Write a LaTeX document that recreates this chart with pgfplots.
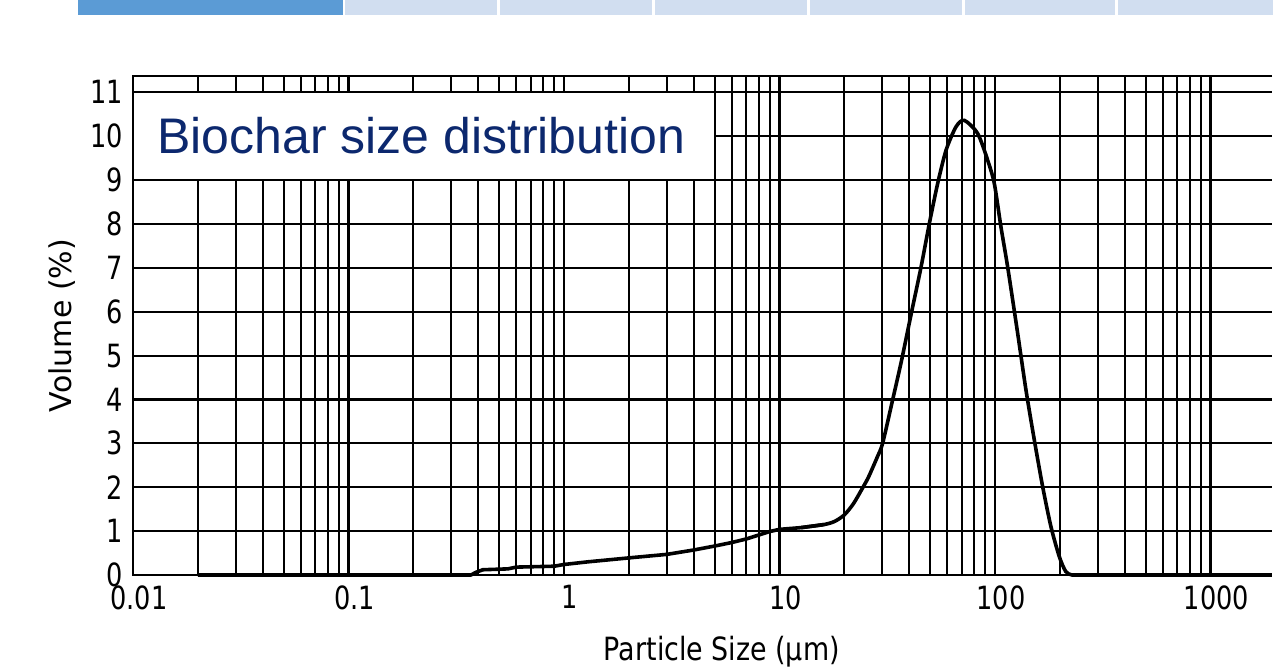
\documentclass[border=0pt]{standalone}
\usepackage{fontspec}
\setmainfont{DejaVu Sans}
\usepackage{pgfplots}
\pgfplotsset{compat=1.18}
\newfontfamily\tickfont[FakeStretch=0.8]{DejaVu Sans}
\newfontfamily\labfont[FakeStretch=0.84]{DejaVu Sans}
\newfontfamily\titlefont{Liberation Sans}
\definecolor{titleblue}{RGB}{12,40,110}
\definecolor{tabblue}{RGB}{91,155,213}
\definecolor{tablight}{RGB}{209,222,240}

\begin{document}
\begin{tikzpicture}
\useasboundingbox (-66.5pt,-45.5pt) rectangle (570pt,287.5pt);
% cropped tab strip at the top of the screenshot
\fill[tabblue] (-27.5pt,280pt) rectangle (105pt,287.5pt);
\foreach \a/\b in {106/182,183.5/259.5,261/337,338.5/414.5,416/491,492.5/570}
  \fill[tablight] (\a pt,280pt) rectangle (\b pt,287.5pt);
\begin{semilogxaxis}[
    scale only axis,
    width=569.5pt, height=249.5pt,
    xmin=0.01, xmax=1930,
    ymin=0, ymax=11.37,
    clip=false,
    axis line style={draw=none},
    xtick={0.01,0.1,1,10,100,1000},
    xticklabels={0.01,0.1,1,10,100,1000},
    minor xtick={0.02,0.03,0.04,0.05,0.06,0.07,0.08,0.09,
                 0.2,0.3,0.4,0.5,0.6,0.7,0.8,0.9,
                 2,3,4,5,6,7,8,9,
                 20,30,40,50,60,70,80,90,
                 200,300,400,500,600,700,800,900},
    ytick={0,1,2,3,4,5,6,7,8,9,10,11},
    yticklabels={0,1,2,3,4,5,6,7,8,9,10,11},
    major tick length=0pt, minor tick length=0pt,
    xmajorgrids, xminorgrids, ymajorgrids,
    major grid style={black, line width=1.05pt},
    minor grid style={black, line width=1.05pt},
    tick label style={font=\tickfont\fontsize{16}{16}\selectfont, inner sep=0pt},
    xticklabel style={anchor=north, yshift=-5pt, xshift=3pt},
    yticklabel style={anchor=east, xshift=-5pt},
    xlabel={Particle Size (µm)},
    ylabel={Volume (\%)},
    xlabel style={font=\labfont\fontsize{16}{16}\selectfont,
      at={(axis description cs:0.517,0)}, anchor=base, yshift=-42.5pt},
    ylabel style={font=\fontsize{15}{15}\selectfont,
      at={(axis description cs:-0.0536,0.5)}, anchor=base},
  ]
  % title box
  \draw[fill=white, line width=1.05pt] (axis cs:0.01,9) rectangle (axis cs:5,11);
  \node[anchor=base west, inner sep=0pt, text=titleblue,
        font=\titlefont\fontsize{25}{25}\selectfont]
        at (axis cs:0.0129,9.61) {Biochar size distribution};

  % fine fraction and tails
  \addplot[black, line width=1.8pt, line join=round] coordinates {
    (0.02,0) (0.37,0) (0.39,0.06) (0.42,0.12) (0.55,0.14) (0.6,0.18)
    (0.9,0.20) (1.0,0.24) (1.29,0.30) (2,0.39) (3,0.47) (4,0.57)
    (5,0.66) (6,0.74) (7,0.82) (8,0.91) (9,0.99) (10,1.04)
    (12.6,1.08) (16.1,1.15)
  };
  % main peak
  \addplot[black, line width=1.8pt, smooth, tension=0.45] coordinates {
    (12.6,1.08) (16.1,1.15) (18,1.22) (20,1.37) (22,1.62) (23.9,1.92)
    (25.7,2.20) (27.1,2.45) (28.5,2.70) (30.1,3.00) (33.5,3.99)
    (36.6,4.82) (39.3,5.55) (41.5,6.11) (45.4,7.02) (49.6,8.01)
    (54.2,8.92) (59.3,9.68) (65.9,10.21) (72,10.36) (83.1,10.06)
    (92.5,9.45) (99.3,8.92) (106.6,7.93) (114.5,7.02) (127.4,5.51)
    (139.3,4.21) (152.2,3.08) (166.5,2.01) (181.9,1.10) (198.8,0.42)
    (213,0.08) (228,0) (260,0)
  };
  \addplot[black, line width=1.8pt] coordinates {(228,0) (1930,0)};
  % axis frame (the right side is cut off in the reference)
  \draw[line width=1.05pt] (rel axis cs:1,1) -- (rel axis cs:0,1)
    -- (rel axis cs:0,0) -- (rel axis cs:1,0);
\end{semilogxaxis}
\end{tikzpicture}
\end{document}
